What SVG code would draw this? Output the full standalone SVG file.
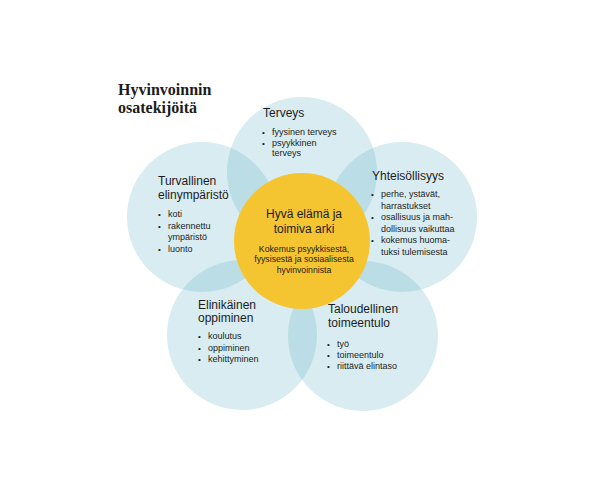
<svg xmlns="http://www.w3.org/2000/svg" width="595" height="478" viewBox="0 0 595 478">
<style>
.petal{fill:#63b3c7;fill-opacity:0.25}
.core{fill:#f5c431}
.h{font-family:"Liberation Sans",Arial,sans-serif;font-size:12px;fill:#1c1c1c}
.b{font-family:"Liberation Sans",Arial,sans-serif;font-size:9px;fill:#1c1c1c}
.d{font-family:"Liberation Sans",Arial,sans-serif;font-size:8px;fill:#1c1c1c}
.s{font-family:"Liberation Sans",Arial,sans-serif;font-size:8.7px;fill:#1c1c1c;text-anchor:middle}
.title{font-family:"Liberation Serif","Times New Roman",serif;font-size:16px;font-weight:bold;fill:#1c1c1c}
</style>
<rect width="595" height="478" fill="#ffffff"/>
<g id="title">
<text class="title" x="118" y="95">Hyvinvoinnin</text>
<text class="title" x="118" y="113">osatekijöitä</text>
</g>
<g id="terveys">
<circle class="petal" cx="302" cy="172" r="75"/>
<text class="h" x="263" y="117">Terveys</text>
<text class="d" x="262" y="135">•</text><text class="b" x="272" y="135">fyysinen terveys</text>
<text class="d" x="262" y="145.5">•</text><text class="b" x="272" y="145.5">psyykkinen</text>
<text class="b" x="272" y="156">terveys</text>
</g>
<g id="turvallinen">
<circle class="petal" cx="202" cy="217" r="75"/>
<text class="h" x="158" y="185">Turvallinen</text>
<text class="h" x="158" y="199">elinympäristö</text>
<text class="d" x="158" y="217">•</text><text class="b" x="168" y="217">koti</text>
<text class="d" x="158" y="228.5">•</text><text class="b" x="168" y="228.5">rakennettu</text>
<text class="b" x="168" y="240">ympäristö</text>
<text class="d" x="158" y="251.5">•</text><text class="b" x="168" y="251.5">luonto</text>
</g>
<g id="yhteisollisyys">
<circle class="petal" cx="402" cy="217" r="75"/>
<text class="h" x="372" y="180">Yhteisöllisyys</text>
<text class="d" x="371" y="197">•</text><text class="b" x="381" y="197">perhe, ystävät,</text>
<text class="b" x="381" y="208.5">harrastukset</text>
<text class="d" x="371" y="220">•</text><text class="b" x="381" y="220">osallisuus ja mah-</text>
<text class="b" x="381" y="231.5">dollisuus vaikuttaa</text>
<text class="d" x="371" y="243">•</text><text class="b" x="381" y="243">kokemus huoma-</text>
<text class="b" x="381" y="255">tuksi tulemisesta</text>
</g>
<g id="elinikainen">
<circle class="petal" cx="242" cy="335" r="75"/>
<text class="h" x="198" y="308.5">Elinikäinen</text>
<text class="h" x="198" y="322">oppiminen</text>
<text class="d" x="198" y="338.5">•</text><text class="b" x="208" y="338.5">koulutus</text>
<text class="d" x="198" y="350.5">•</text><text class="b" x="208" y="350.5">oppiminen</text>
<text class="d" x="198" y="361.5">•</text><text class="b" x="208" y="361.5">kehittyminen</text>
</g>
<g id="taloudellinen">
<circle class="petal" cx="363" cy="336" r="75"/>
<text class="h" x="328" y="313">Taloudellinen</text>
<text class="h" x="328" y="327">toimeentulo</text>
<text class="d" x="327" y="346.5">•</text><text class="b" x="337" y="346.5">työ</text>
<text class="d" x="327" y="357.5">•</text><text class="b" x="337" y="357.5">toimeentulo</text>
<text class="d" x="327" y="368.5">•</text><text class="b" x="337" y="368.5">riittävä elintaso</text>
</g>
<g id="center">
<circle class="core" cx="302" cy="241" r="68"/>
<text class="h" x="304" y="218" text-anchor="middle">Hyvä elämä ja</text>
<text class="h" x="304" y="233" text-anchor="middle">toimiva arki</text>
<text class="s" x="304" y="251.5">Kokemus psyykkisestä,</text>
<text class="s" x="304" y="262">fyysisestä ja sosiaalisesta</text>
<text class="s" x="304" y="272.5">hyvinvoinnista</text>
</g>
<g id="connectors"></g>
</svg>
